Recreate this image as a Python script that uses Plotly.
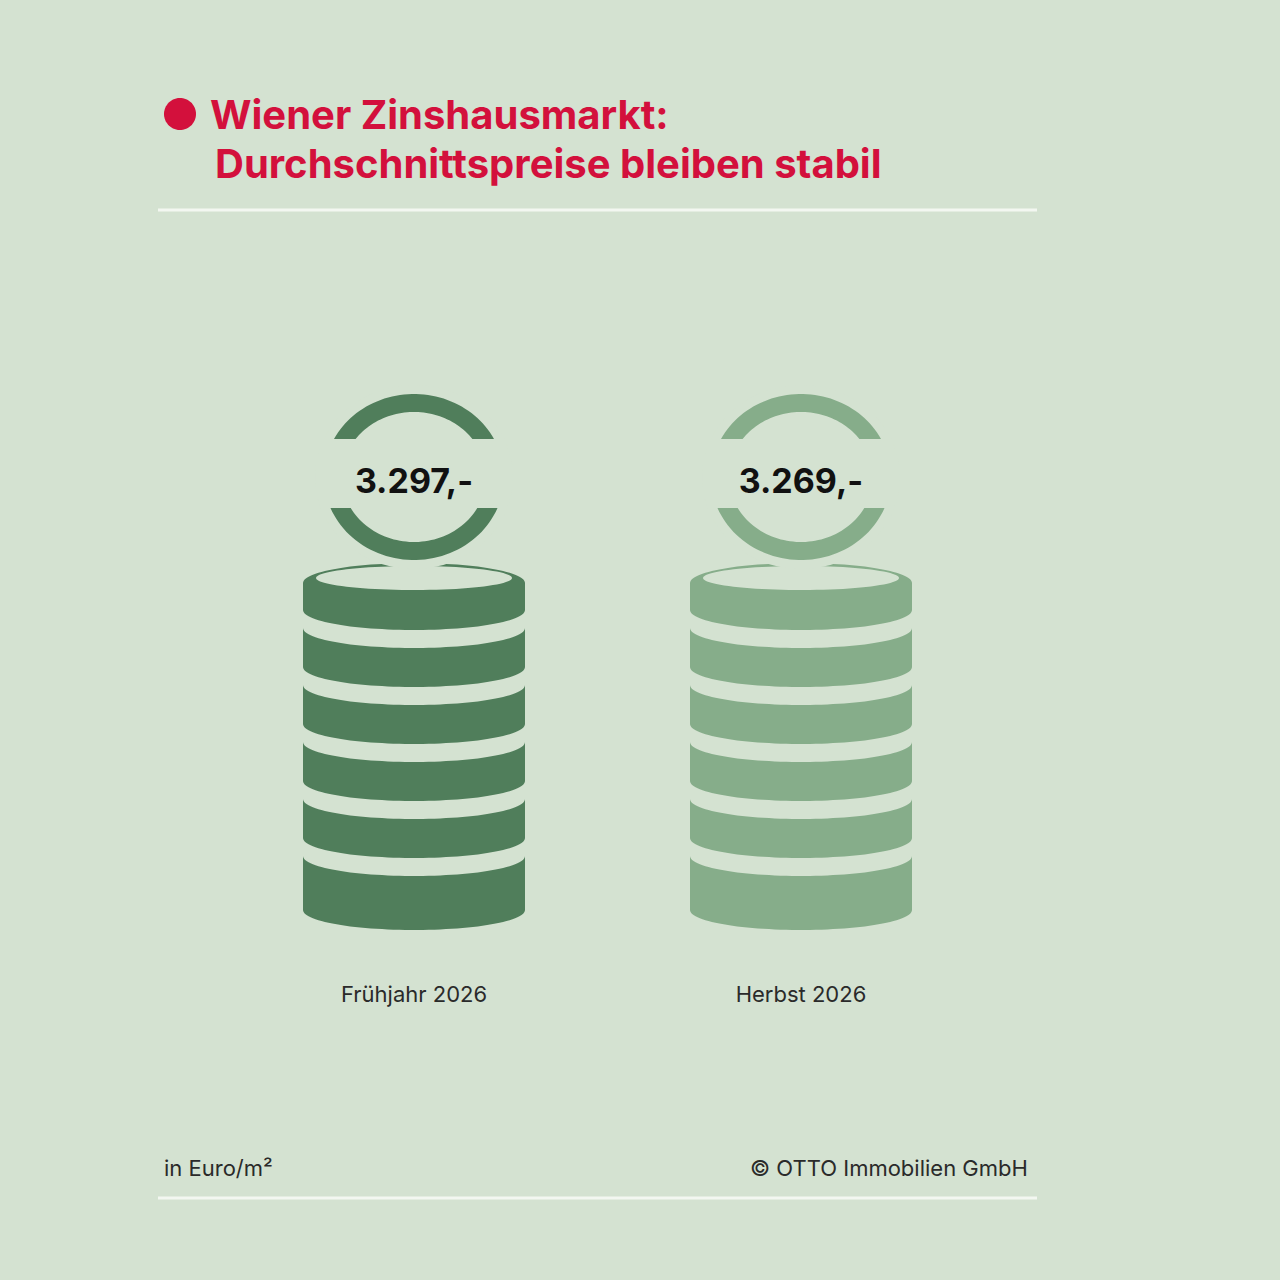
import numpy as np
import plotly.graph_objects as go

categories = ["Frühjahr 2026", "Herbst 2026"]
values = [3297, 3269]
value_labels = ["3.297,-", "3.269,-"]
colors = ["#507e5b", "#86ad8a"]

BG = "#d4e2d1"
centers = [414, 801]

fig = go.Figure()
shapes = []

def poly(pts):
    return "M " + " L ".join(f"{x:.1f},{y:.1f}" for x, y in pts) + " Z"

def shp(path, col):
    shapes.append(dict(type="path", path=path, fillcolor=col, line=dict(width=0), layer="below"))

RX, RY = 111, 20
tops = [583, 628, 685, 742, 799, 856]
bots = [610, 667, 724, 781, 838, 910]

for i, cx in enumerate(centers):
    col = colors[i]
    for k in range(6):
        yt, yb = tops[k], bots[k]
        pts = [(cx - RX, yt), (cx - RX, yb)]
        t = np.linspace(np.pi, 0, 60)
        pts += [(cx + RX*np.cos(a), yb + RY*np.sin(a)) for a in t]
        pts += [(cx + RX, yt)]
        t2 = np.linspace(0, np.pi, 60)
        s = -1 if k == 0 else 1
        pts += [(cx + RX*np.cos(a), yt + s*RY*np.sin(a)) for a in t2]
        shp(poly(pts), col)
    t = np.linspace(0, 2*np.pi, 90)
    shp(poly([(cx + 98*np.cos(a), 578 + 12*np.sin(a)) for a in t]), BG)
    cy = 477
    shp(poly([(cx + 99*np.cos(a), cy + 92*np.sin(a)) for a in t]), BG)
    Rx, Ry, rx, ry = 90, 83, 72, 65
    for ycut, up in [(439, True), (508, False)]:
        so = np.arcsin(min(1, abs(cy - ycut)/Ry))
        si = np.arcsin(min(1, abs(cy - ycut)/ry))
        sg = -1 if up else 1
        to = np.linspace(so, np.pi - so, 50)
        ti = np.linspace(np.pi - si, si, 50)
        pts = [(cx + Rx*np.cos(a), cy + sg*Ry*np.sin(a)) for a in to]
        pts += [(cx + rx*np.cos(a), cy + sg*ry*np.sin(a)) for a in ti]
        shp(poly(pts), col)

fig.add_trace(go.Scatter(x=centers, y=[484, 484], mode="text", text=value_labels,
                         textfont=dict(family="Inter", size=34, color="#111111", weight="bold"),
                         hoverinfo="skip", showlegend=False))
fig.add_trace(go.Scatter(x=centers, y=[996, 996], mode="text", text=categories,
                         textfont=dict(family="Inter", size=22, color="#2a2a2a"),
                         hoverinfo="skip", showlegend=False))

t = np.linspace(0, 2*np.pi, 60)
shp(poly([(180 + 16*np.cos(a), 114 + 16*np.sin(a)) for a in t]), "#d3103c")
for y in [210, 1198]:
    shapes.append(dict(type="line", x0=158, x1=1037, y0=y, y1=y, line=dict(color="#f3f7f1", width=3), layer="below"))

ann = [
    dict(x=208, y=114, text="Wiener Zinshausmarkt:", xanchor="left", size=40, bold=True, color="#d3103c"),
    dict(x=213, y=163, text="Durchschnittspreise bleiben stabil", xanchor="left", size=40, bold=True, color="#d3103c"),
    dict(x=162, y=1168, text="in Euro/m²", xanchor="left", size=22, bold=False, color="#2a2a2a"),
    dict(x=1030, y=1168, text="© OTTO Immobilien GmbH", xanchor="right", size=22, bold=False, color="#2a2a2a"),
]
annotations = [dict(x=a["x"], y=a["y"], xref="x", yref="y", text=(f"<b>{a['text']}</b>" if a["bold"] else a["text"]),
                    xanchor=a["xanchor"], yanchor="middle", showarrow=False,
                    font=dict(family="Inter", size=a["size"], color=a["color"])) for a in ann]

fig.update_layout(width=1280, height=1280, margin=dict(l=0, r=0, t=0, b=0),
                  paper_bgcolor=BG, plot_bgcolor=BG, shapes=shapes, annotations=annotations,
                  xaxis=dict(range=[0, 1280], visible=False, fixedrange=True),
                  yaxis=dict(range=[1280, 0], visible=False, fixedrange=True))
fig.write_html("out.html", config={"displayModeBar": False},
               post_script="document.body.style.margin='0';document.body.style.background='%s';" % BG)
